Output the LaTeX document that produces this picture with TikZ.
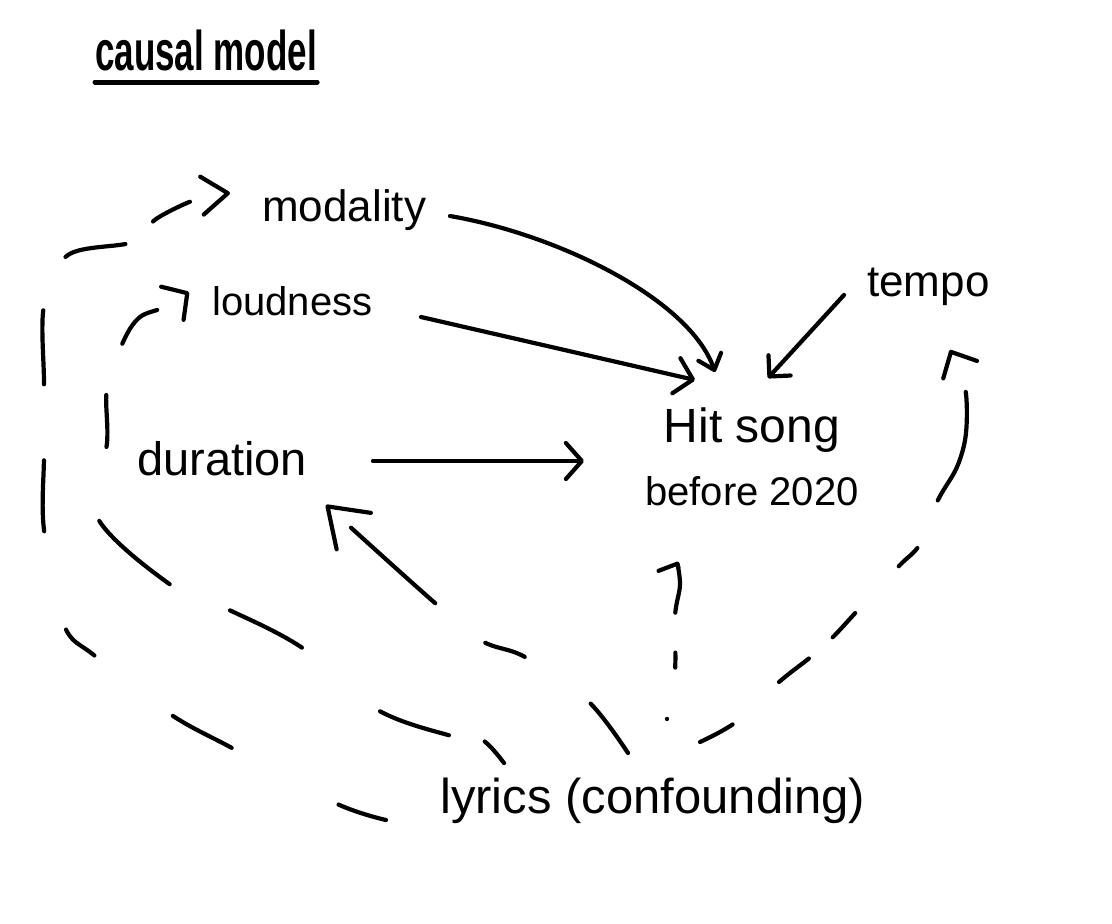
\documentclass[tikz,border=0pt]{standalone}
\usepackage{fontspec}
\usepackage{graphicx}
\setmainfont{Liberation Sans}
\usetikzlibrary{arrows.meta,calc}
\begin{document}
\begin{tikzpicture}[x=1pt,y=-1pt,
  lbl/.style={inner sep=0pt,anchor=base west},
  ink/.style={line width=4.2pt,line cap=round,line join=round},
]
\fill[white] (0,0) rectangle (1112,924);
\useasboundingbox (0,0) rectangle (1112,924);

% ---------- labels ----------
\node[lbl,font=\fontsize{35}{40}\selectfont\bfseries] (title) at (95,70) {\scalebox{1}[1.6]{causal model}};
\node[lbl,font=\fontsize{44}{50}\selectfont] (modality) at (262,221) {modality};
\node[lbl,font=\fontsize{40}{50}\selectfont] (loudness) at (212,315) {loudness};
\node[lbl,font=\fontsize{47}{50}\selectfont] (duration) at (137,475) {duration};
\node[lbl,font=\fontsize{44}{50}\selectfont] (tempo) at (867,296) {tempo};
\node[inner sep=0pt,anchor=north,align=center,font=\fontsize{40}{63}\selectfont] (hit) at (752,408)
  {{\fontsize{48}{63}\selectfont Hit song}\\before 2020};
\node[lbl,font=\fontsize{49}{55}\selectfont] (lyrics) at (440,813) {lyrics (confounding)};

% title underline
\draw[ink,line width=5pt] ($(title.base west)+(0,12)$) -- ($(title.base east)+(0,12)$);

% ---------- connector end points ----------
\coordinate (mS) at ($(lyrics.base west)+(-54,7)$);
\coordinate (mE) at ($(modality.base west)+(-32,-28)$);
\coordinate (lS) at ($(lyrics.base west)+(64,-50)$);
\coordinate (lE) at ($(loudness.base west)+(-23,-23)$);
\coordinate (dS) at ($(lyrics.base west)+(188,-60)$);
\coordinate (dE) at ($(duration.base west)+(189,30)$);
\coordinate (hS) at ($(lyrics.base west)+(227,-94)$);
\coordinate (hE) at ($(hit.south)+(-75,55)$);
\coordinate (tS) at ($(lyrics.base west)+(260,-71)$);
\coordinate (tE) at ($(tempo.base west)+(83,54)$);

% ---------- solid arrows into the hit song ----------
\draw[ink,-{Straight Barb[length=14pt,width=24pt,round]}]
  ($(modality.base west)+(188,-5)$) .. controls (560,235) and (690,300) .. ($(hit.north)+(-37,-36)$);
\draw[ink,-{Straight Barb[length=17pt,width=36pt,round]}]
  ($(loudness.base west)+(209,2)$) -- ($(hit.north)+(-57,-28)$);
\draw[ink,-{Straight Barb[length=16pt,width=36pt,round]}]
  ($(duration.base west)+(236,-14)$) -- ($(hit.north)+(-168,53)$);
\draw[ink,-{Straight Barb[length=15pt,width=30pt,round]}]
  ($(tempo.base west)+(-23,-1)$) -- ($(hit.north)+(16,-30)$);

% ---------- dashed arrows from lyrics ----------
% lyrics -> modality
\draw[ink,dash pattern=on 50pt off 121pt on 67pt off 99pt on 39pt off 101pt on 71pt off 76pt on 74pt off 59pt on 62pt off 37pt on 42pt off 300pt,
      -{Straight Barb[length=26pt,width=38pt,round]}]
  plot[smooth,tension=0.55] coordinates {(mS) (335,803) (232,748) (170,714) (95,656) (64,625) (44,530) (44,455) (44,383) (44,305) (68,255) (133,242) (156,219) (197,199) (mE)};
% lyrics -> loudness
\draw[ink,dash pattern=on 29pt off 37pt on 73pt off 101pt on 81pt off 66pt on 95pt off 77pt on 52pt off 54pt on 51pt off 300pt,
      -{Straight Barb[length=18pt,width=40pt,round]}]
  plot[smooth,tension=0.55] coordinates {(lS) (481,739) (448,735) (376,709) (301,647) (225,608) (168,583) (96,515) (107,443) (107,387) (124,340) (140,317) (165,307) (lE)};
% lyrics -> duration
\draw[ink,dash pattern=on 62pt off 81pt on 42pt off 64pt on 113pt off 300pt,
      -{Straight Barb[length=36pt,width=50pt,round]}]
  plot[smooth,tension=0.55] coordinates {(dS) (588,701) (525,657) (482,641) (435,603) (348,525) (dE)};
% lyrics -> hit song
\draw[ink,dash pattern=on 0.1pt off 52pt on 15pt off 40pt on 200pt,
      -{Straight Barb[left,length=3pt,width=40pt,round]}]
  plot[smooth,tension=0.55] coordinates {(hS) (675,671) (675,616) (680,585) (hE)};
% lyrics -> tempo
\draw[ink,dash pattern=on 37pt off 63pt on 38pt off 32pt on 33pt off 64pt on 26pt off 52pt on 115pt off 300pt,
      -{Straight Barb[length=20pt,width=38pt,round]}]
  plot[smooth,tension=0.55] coordinates {(tS) (736,722) (779,682) (812,656) (833,637) (858,610) (899,566) (920,544) (938,500) (957,467) (966,433) (965,387) (tE)};
\end{tikzpicture}
\end{document}
